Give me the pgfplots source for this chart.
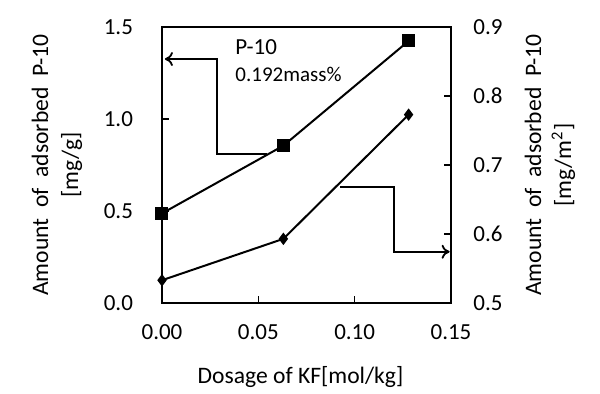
\documentclass[border=0pt]{standalone}
\usepackage{fontspec}
\setmainfont{Carlito}
\usepackage{pgfplots}
\pgfplotsset{compat=1.18}
\usetikzlibrary{arrows.meta}
\tikzset{lab/.style={font=\fontsize{11.8}{15}\selectfont, align=center, anchor=center}}
\begin{document}
\begin{tikzpicture}
\useasboundingbox (-81pt,-45pt) rectangle (219pt,151.5pt);
\pgfplotsset{
  common/.style={
    at={(0,0)}, anchor=south west, scale only axis,
    width=144.5pt, height=138pt, clip=false,
    xmin=0, xmax=0.15,
    tick align=inside, major tick length=3.5pt,
    axis line style={line width=0.8pt},
    tick style={line width=0.8pt, black},
    /pgf/number format/assume math mode=true,
    tick label style={font=\fontsize{11.5}{13}\selectfont},
  },
}
\begin{axis}[common,
  ymin=0, ymax=1.5,
  xtick={0,0.05,0.1,0.15}, ytick={0,0.5,1,1.5},
  xtick pos=bottom, ytick pos=left,
  x tick label style={/pgf/number format/fixed,/pgf/number format/fixed zerofill,/pgf/number format/precision=2, anchor=center, yshift=-14.5pt},
  y tick label style={/pgf/number format/fixed,/pgf/number format/fixed zerofill,/pgf/number format/precision=1, anchor=east, xshift=-11pt},
  xlabel={Dosage of KF[mol/kg]},
  ylabel={Amount\hspace{0.45em}of\hspace{0.45em}adsorbed\hspace{0.45em}P-10\\\relax [mg/g]},
  every axis x label/.style={at={([yshift=-37pt,xshift=-3pt]rel axis cs:0.5,0)}, lab},
  every axis y label/.style={at={([xshift=-52.5pt]rel axis cs:0,0.5)}, lab, rotate=90},
]
\addplot[black, line width=1pt, mark=square*, mark size=2.75pt] coordinates {(0,0.487) (0.063,0.855) (0.128,1.424)};
\draw[line width=0.9pt, -{To[length=4pt,width=7pt]}] (axis cs:0.0543,0.81) -- (axis cs:0.0284,0.81) -- (axis cs:0.0284,1.326) -- (axis cs:0.0015,1.326);
\node[anchor=west, font=\fontsize{11.5}{13}\selectfont, inner sep=0pt] at (axis cs:0.0379,1.391) {P-10};
\node[anchor=west, font=\fontsize{10.5}{12}\selectfont, inner sep=0pt] at (axis cs:0.0379,1.245) {0.192mass\%};
\end{axis}
\begin{axis}[common,
  ymin=0.5, ymax=0.9,
  axis x line=none, axis y line*=right,
  ytick={0.5,0.6,0.7,0.8,0.9}, ytick pos=right,
  y tick label style={/pgf/number format/fixed,/pgf/number format/fixed zerofill,/pgf/number format/precision=1, anchor=west, xshift=7.7pt},
  ylabel={Amount\hspace{0.45em}of\hspace{0.45em}adsorbed\hspace{0.45em}P-10\\\relax [mg/m\textsuperscript{2}]},
  every axis y label/.style={at={([xshift=49.5pt]rel axis cs:1,0.5)}, lab, rotate=90},
]
\addplot[black, line width=1pt, mark=diamond*, mark size=2.3pt] coordinates {(0,0.533) (0.063,0.593) (0.128,0.773)};
\draw[line width=0.9pt, -{To[length=4pt,width=7pt]}] (axis cs:0.0924,0.6686) -- (axis cs:0.1206,0.6686) -- (axis cs:0.1206,0.5743) -- (axis cs:0.1493,0.5743);
\end{axis}
\end{tikzpicture}
\end{document}
